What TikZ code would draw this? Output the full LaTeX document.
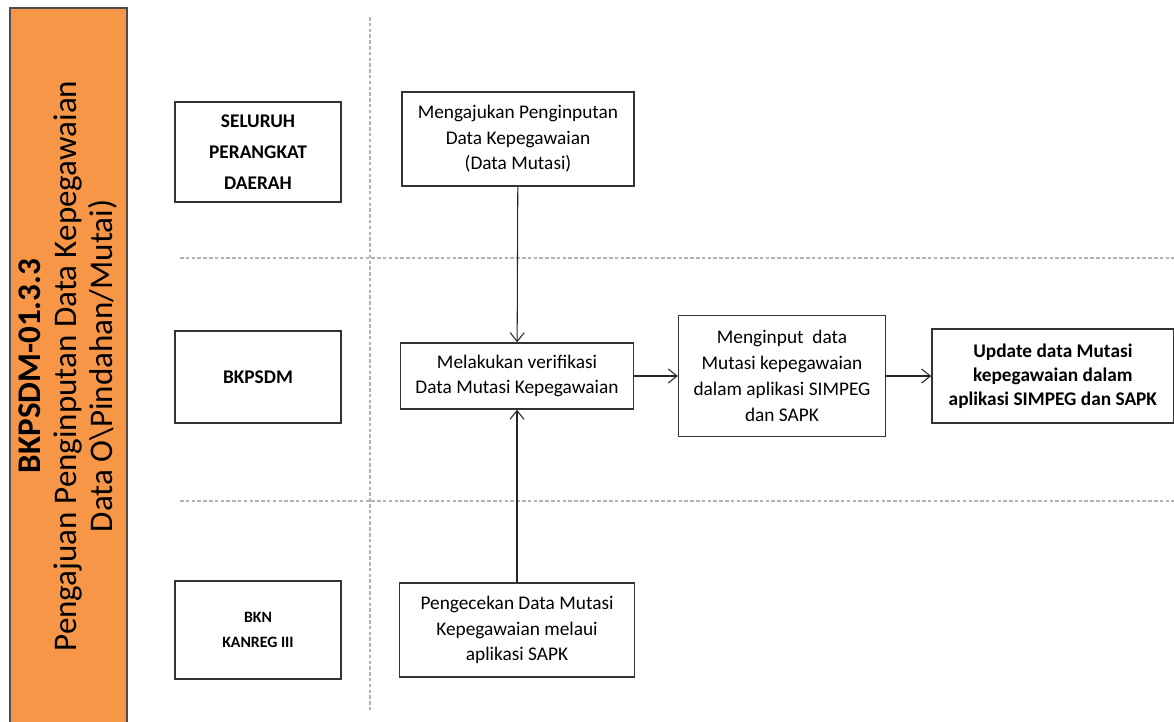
\documentclass[tikz,border=0pt]{standalone}
\usepackage{fontspec}
\setmainfont{Carlito}
\usepackage{xcolor}
\usetikzlibrary{positioning,arrows.meta}
\definecolor{bkorange}{HTML}{F79646}

\begin{document}
\begin{tikzpicture}[x=0.02cm,y=-0.02cm,
    box/.style={draw=black!80,line width=0.8pt,align=center,inner sep=0pt,
      font=\fontsize{11}{14.5}\selectfont},
    actor/.style={box,minimum width=3.32cm,font=\bfseries\fontsize{11}{17.6}\selectfont},
    lane/.style={gray!60,dash pattern=on 2pt off 1.3pt,line width=0.6pt},
    flow/.style={-{Straight Barb[length=5pt,width=8pt]},line width=0.6pt,black!85}]
  \useasboundingbox (0,0) rectangle (1174,721);
  \fill[bkorange,draw=black!70,line width=0.8pt] (10,8) rectangle (127,730);
  \node[rotate=90,align=center,font=\fontsize{18.8}{20.3}\selectfont] (judul) at (68,366)
    {\textbf{BKPSDM-01.3.3}\\Pengajuan Penginputan Data Kepegawaian\\Data O\textbackslash Pindahan/Mutai)};
  % lanes
  \draw[lane] (370,17) -- (370,710);
  \draw[lane] (180,258) -- (1174,258);
  \draw[lane] (180,501) -- (1174,501);
  % actors
  \node[actor,minimum height=2cm] (pd) at (258,152) {SELURUH\\PERANGKAT\\DAERAH};
  \node[actor,minimum height=1.84cm] (bk) at (258,377) {BKPSDM};
  \node[actor,minimum height=1.96cm,font=\bfseries\fontsize{9}{14.7}\selectfont] (bkn) at (258,630) {BKN\\KANREG III};
  % steps
  \node[box,minimum width=4.64cm,minimum height=1.88cm] (aju) at (518,139)
    {Mengajukan Penginputan\\Data Kepegawaian\\(Data Mutasi)};
  \node[box,minimum width=4.66cm,minimum height=1.32cm] (ver) at (517,376)
    {Melakukan verifikasi\\Data Mutasi Kepegawaian};
  \node[box,minimum width=4.14cm,minimum height=2.42cm,font=\fontsize{11}{14.7}\selectfont] (inp) at (782,376)
    {Menginput~ data\\Mutasi kepegawaian\\dalam aplikasi SIMPEG\\dan SAPK};
  \node[box,right=0.9cm of inp,minimum width=4.84cm,minimum height=1.88cm,
    font=\bfseries\fontsize{11}{13.6}\selectfont] (upd)
    {Update data Mutasi\\kepegawaian dalam\\aplikasi SIMPEG dan SAPK};
  \node[box,minimum width=4.7cm,minimum height=1.88cm,font=\fontsize{11}{14.7}\selectfont] (cek) at (517,630)
    {Pengecekan Data Mutasi\\Kepegawaian melaui\\aplikasi SAPK};
  % arrows
  \draw[flow] (aju) -- (ver);
  \draw[flow] (cek) -- (ver);
  \draw[flow] (ver) -- (inp);
  \draw[flow] (inp) -- (upd);
\end{tikzpicture}
\end{document}
